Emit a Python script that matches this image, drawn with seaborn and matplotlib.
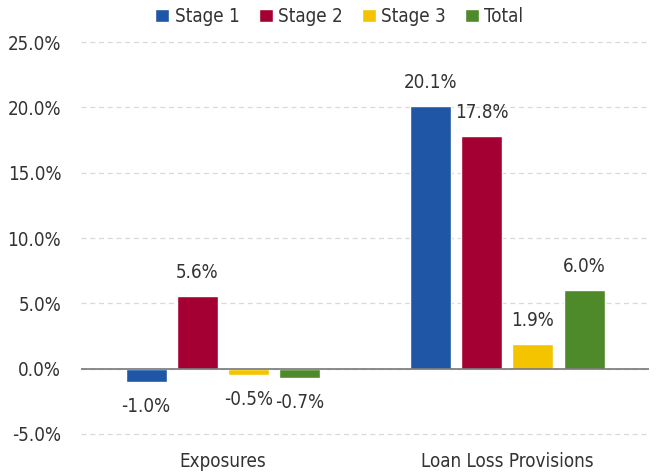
import pandas as pd
import numpy as np
import matplotlib
matplotlib.use("Agg")
import matplotlib.pyplot as plt
import seaborn as sns
from matplotlib.ticker import FuncFormatter

############################################################
##### Data
############################################################

categories = ["Exposures", "Loan Loss Provisions"]
series = ["Stage 1", "Stage 2", "Stage 3", "Total"]
stage1 = [-1.0, 20.1]
stage2 = [5.6, 17.8]
stage3 = [-0.5, 1.9]
total = [-0.7, 6.0]
colors = ["#1f56a5", "#a50034", "#f5c400", "#4e8a2a"]

############################################################
##### Plot
############################################################

df = pd.DataFrame({"category": categories * 4,
                   "series": np.repeat(series, 2),
                   "value": stage1 + stage2 + stage3 + total})

sns.set_style("white")
plt.rcParams["font.family"] = ["DejaVu Sans"]
plt.rcParams["font.stretch"] = "condensed"

fig, ax = plt.subplots(figsize=(6.56, 4.72), dpi=100)
sns.barplot(data=df, x="category", y="value", hue="series", palette=colors,
            width=0.72, gap=0.2, ax=ax, errorbar=None, saturation=1)

# value labels
for cont in ax.containers:
    for bar in cont:
        h = bar.get_height()
        x = bar.get_x() + bar.get_width() / 2
        if h >= 0:
            ax.annotate(f"{h:.1f}%", (x, h), xytext=(0, 10), textcoords="offset points",
                        ha="center", va="bottom", fontsize=13.5, color="#333333")
        else:
            ax.annotate(f"{h:.1f}%", (x, h), xytext=(0, -11), textcoords="offset points",
                        ha="center", va="top", fontsize=13.5, color="#333333")

ax.set_ylim(-5.6, 25.3)
ax.set_yticks(np.arange(-5, 26, 5))
ax.yaxis.set_major_formatter(FuncFormatter(lambda v, p: f"{v:.1f}%"))
ax.set_xlim(-0.5, 1.5)
ax.grid(axis="y", color="#d9d9d9", linestyle=(0, (4, 3)), linewidth=0.9)
ax.set_axisbelow(True)
ax.axhline(0, color="#777777", linewidth=1.2)
for s in ax.spines.values():
    s.set_visible(False)
ax.tick_params(axis="both", length=0, labelsize=13.5, colors="#333333")
ax.tick_params(axis="y", pad=14)
ax.tick_params(axis="x", pad=7)
ax.set_xlabel("")
ax.set_ylabel("")

ax.legend(loc="lower center", bbox_to_anchor=(0.455, 1.0), ncol=4, frameon=False,
          fontsize=13.5, handlelength=0.75, handleheight=0.75, handletextpad=0.3,
          columnspacing=1.0, borderaxespad=0.25, labelcolor="#333333")

plt.subplots_adjust(left=0.123, right=0.99, top=0.919, bottom=0.064)
plt.savefig("out.png", dpi=100)
